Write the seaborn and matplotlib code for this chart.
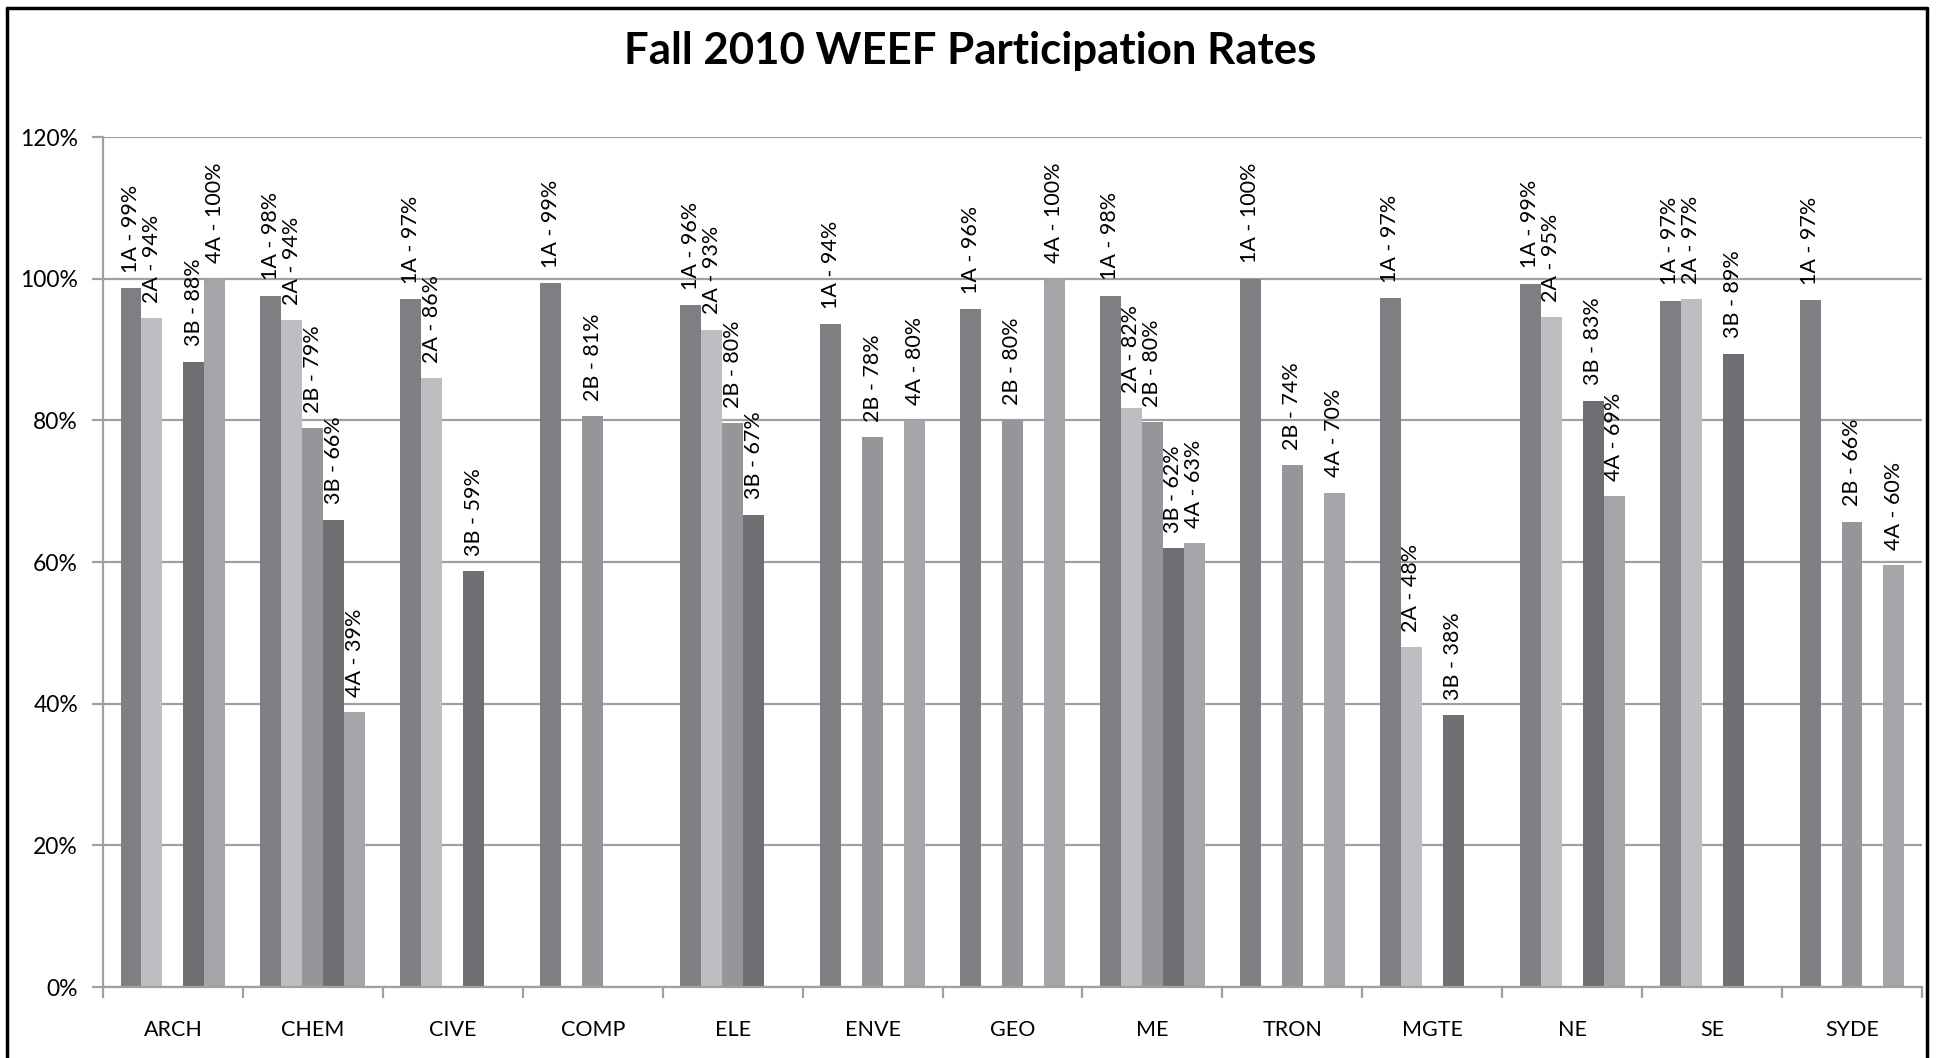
import matplotlib
matplotlib.use("Agg")
import matplotlib.pyplot as plt
from matplotlib.lines import Line2D
from matplotlib.ticker import FuncFormatter
import seaborn as sns
import pandas as pd
import numpy as np

programs = ["ARCH", "CHEM", "CIVE", "COMP", "ELE", "ENVE", "GEO", "ME", "TRON", "MGTE", "NE", "SE", "SYDE"]
terms = ["1A", "2A", "2B", "3B", "4A"]

# participation rate (%) per term for each program; None = no bar
rate_1A = [98.7, 97.6, 97.1, 99.4, 96.3, 93.6, 95.7, 97.6, 100.0, 97.3, 99.3, 96.9, 97.0]
rate_2A = [94.4, 94.1, 86.0, None, 92.8, None, None, 81.7, None, 48.0, 94.6, 97.1, None]
rate_2B = [None, 78.9, None, 80.6, 79.6, 77.6, 80.0, 79.7, 73.7, None, None, None, 65.7]
rate_3B = [88.3, 66.0, 58.7, None, 66.7, None, None, 62.0, None, 38.4, 82.8, 89.4, None]
rate_4A = [100.0, 38.8, None, None, None, 80.0, 100.0, 62.7, 69.8, None, 69.3, None, 59.6]

colors = ["#7e7f83", "#bdbec2", "#95969a", "#6e6f73", "#a4a5a9"]

series = {"1A": rate_1A, "2A": rate_2A, "2B": rate_2B, "3B": rate_3B, "4A": rate_4A}
rows = []
for t in terms:
    for p, v in zip(programs, series[t]):
        if v is not None:
            rows.append({"Program": p, "Term": t, "Rate": v / 100.0})
df = pd.DataFrame(rows)

sns.set_theme(style="white")
plt.rcParams["font.family"] = ["Lato", "DejaVu Sans"]

fig = plt.figure(figsize=(19.4, 10.58), dpi=100)
ax = fig.add_axes([0.0531, 0.0671, 0.9376, 0.8034])

sns.barplot(data=df, x="Program", y="Rate", hue="Term", order=programs,
            hue_order=terms, palette=colors, width=0.75, saturation=1,
            dodge=True, errorbar=None, edgecolor="none", linewidth=0,
            legend=False, ax=ax)

# data labels
for term, cont in zip(terms, ax.containers):
    for bar in cont:
        h = bar.get_height()
        if np.isnan(h):
            continue
        x = bar.get_x() + bar.get_width() / 2
        ax.annotate(f"{term} - {int(round(h * 100))}%", (x, h), xytext=(0, 11),
                    textcoords="offset points", rotation=90, ha="center",
                    va="bottom", fontsize=15.5, color="black")

ax.set_ylim(0, 1.2)
ax.set_xlim(-0.5, len(programs) - 0.5)
ax.set_yticks(np.arange(0, 1.21, 0.2))
ax.yaxis.set_major_formatter(FuncFormatter(lambda v, _: f"{int(round(v * 100))}%"))
ax.set_xlabel("")
ax.set_ylabel("")
ax.grid(axis="y", color="#a0a0a0", linewidth=1.6)
ax.set_axisbelow(True)
for s in ["top", "right"]:
    ax.spines[s].set_visible(False)
for s in ["left", "bottom"]:
    ax.spines[s].set_color("#a0a0a0")
    ax.spines[s].set_linewidth(1.6)

ax.tick_params(axis="y", which="major", length=8, width=1.6, color="#a0a0a0",
               labelsize=16.5, labelcolor="black", direction="out", left=True, pad=10)
ax.set_xticks(np.arange(len(programs)))
ax.set_xticklabels(programs)
ax.tick_params(axis="x", which="major", length=0, labelsize=15.5, labelcolor="black", pad=24)
ax.set_xticks(np.arange(-0.5, len(programs), 1.0), minor=True)
ax.tick_params(axis="x", which="minor", length=8, width=1.6, color="#a0a0a0",
               direction="out", bottom=True)

fig.text(0.5, 0.952, "Fall 2010 WEEF Participation Rates", ha="center", va="center",
         fontsize=31.5, fontweight="bold", color="black")

# outer frame (left, top, right)
lw = 2.5
fig.add_artist(Line2D([0.0037, 0.0037], [0.0, 0.9925], transform=fig.transFigure, color="black", lw=lw))
fig.add_artist(Line2D([0.0037, 0.9933], [0.9925, 0.9925], transform=fig.transFigure, color="black", lw=lw))
fig.add_artist(Line2D([0.9933, 0.9933], [0.0, 0.9925], transform=fig.transFigure, color="black", lw=lw))

fig.savefig("out.png", dpi=100, facecolor="white")
